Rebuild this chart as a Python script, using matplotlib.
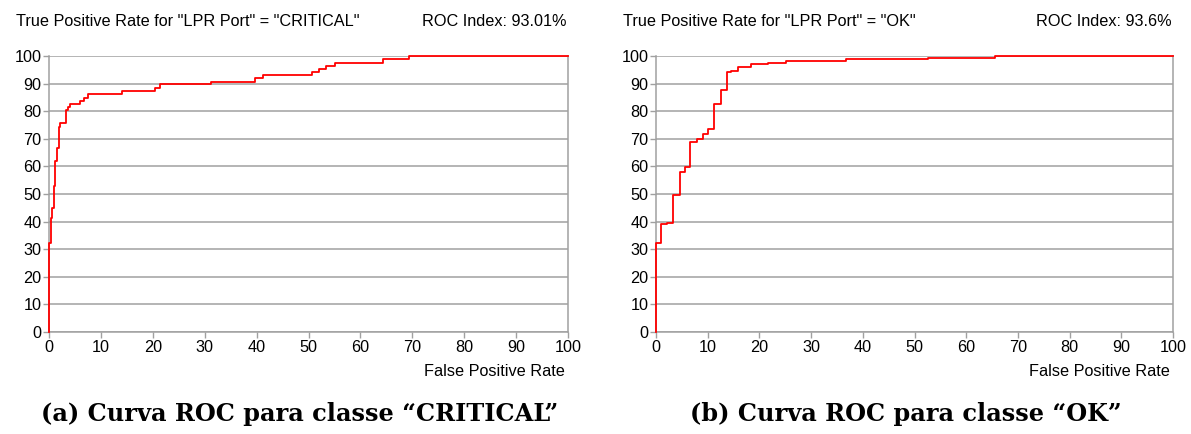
import matplotlib
matplotlib.use("Agg")
import matplotlib.pyplot as plt

# ---- data ----
crit_fpr = [0, 0, 0.32, 0.58, 0.9, 1.22, 1.54, 1.86, 2.1, 3.34, 3.66, 4.0, 6.0, 6.7, 7.6,
            14.0, 20.4, 21.4, 31.2, 39.7, 41.3, 50.7, 52.0, 53.4, 55.2, 64.4, 69.3, 100]
crit_tpr = [0, 32.1, 41.4, 44.8, 52.9, 62.1, 66.5, 74.4, 75.8, 80.3, 81.6, 82.7, 83.7, 84.9, 86.2,
            87.2, 88.3, 89.7, 90.7, 91.9, 93.1, 94.1, 95.3, 96.5, 97.6, 98.8, 100, 100]

ok_fpr = [0, 0, 0.9, 2.06, 3.29, 4.58, 5.54, 6.64, 8.0, 9.15, 10.1, 11.2, 12.6, 13.8, 14.6,
          15.9, 18.4, 21.7, 25.1, 36.7, 52.7, 65.6, 100]
ok_tpr = [0, 32.1, 39.0, 39.6, 49.5, 58.0, 59.8, 69.0, 70.0, 71.9, 73.4, 82.7, 87.8, 94.2, 94.7,
          95.9, 97.1, 97.6, 98.2, 98.8, 99.3, 100, 100]

ticks = [0, 10, 20, 30, 40, 50, 60, 70, 80, 90, 100]
titles = ['True Positive Rate for "LPR Port" = "CRITICAL"', 'True Positive Rate for "LPR Port" = "OK"']
roc_idx = ['ROC Index: 93.01%', 'ROC Index: 93.6%']
captions = ['(a) Curva ROC para classe \u201cCRITICAL\u201d', '(b) Curva ROC para classe \u201cOK\u201d']
xlabel = 'False Positive Rate'

W, H = 1191, 434
fig = plt.figure(figsize=(W / 100, H / 100), dpi=100)
plt.rcParams['font.family'] = ['Liberation Sans', 'DejaVu Sans']

FS = 11.7
GRAY = '#a0a0a0'
boxes = [(49, 56, 568, 332), (656, 56, 1173, 332)]
title_x = [16, 623]
data = [(crit_fpr, crit_tpr), (ok_fpr, ok_tpr)]

for i, (x0, y0, x1, y1) in enumerate(boxes):
    ax = fig.add_axes([x0 / W, 1 - y1 / H, (x1 - x0) / W, (y1 - y0) / H])
    fx, ty = data[i]
    ax.plot(fx, ty, drawstyle='steps-post', color='#ff0000', lw=1.3, zorder=3, clip_on=False)
    ax.set_xlim(0, 100)
    ax.set_ylim(0, 100)
    ax.set_xticks(ticks)
    ax.set_yticks(ticks)
    ax.yaxis.grid(True, color=GRAY, lw=1.1)
    ax.set_axisbelow(True)
    ax.spines['top'].set_visible(False)
    for s in ['left', 'bottom', 'right']:
        ax.spines[s].set_color(GRAY)
        ax.spines[s].set_linewidth(1.1)
    ax.tick_params(axis='both', colors=GRAY, labelcolor='black', labelsize=FS,
                   length=4.5, width=1.0, direction='out')
    ax.tick_params(axis='x', pad=1.5)
    ax.tick_params(axis='y', pad=1)
    fig.text(title_x[i] / W, 1 - 21 / H, titles[i], fontsize=FS, va='center', ha='left')
    fig.text((x1 - 1) / W, 1 - 21 / H, roc_idx[i], fontsize=FS, va='center', ha='right')
    fig.text((x1 - 3) / W, 1 - 372 / H, xlabel, fontsize=FS, va='center', ha='right')
    cx = (x0 + x1) / 2 - 9
    fig.text(cx / W, 1 - 414 / H, captions[i], fontsize=17.3, fontweight='bold',
             family=['DejaVu Serif'], va='center', ha='center')

fig.savefig('out.png', dpi=100)
